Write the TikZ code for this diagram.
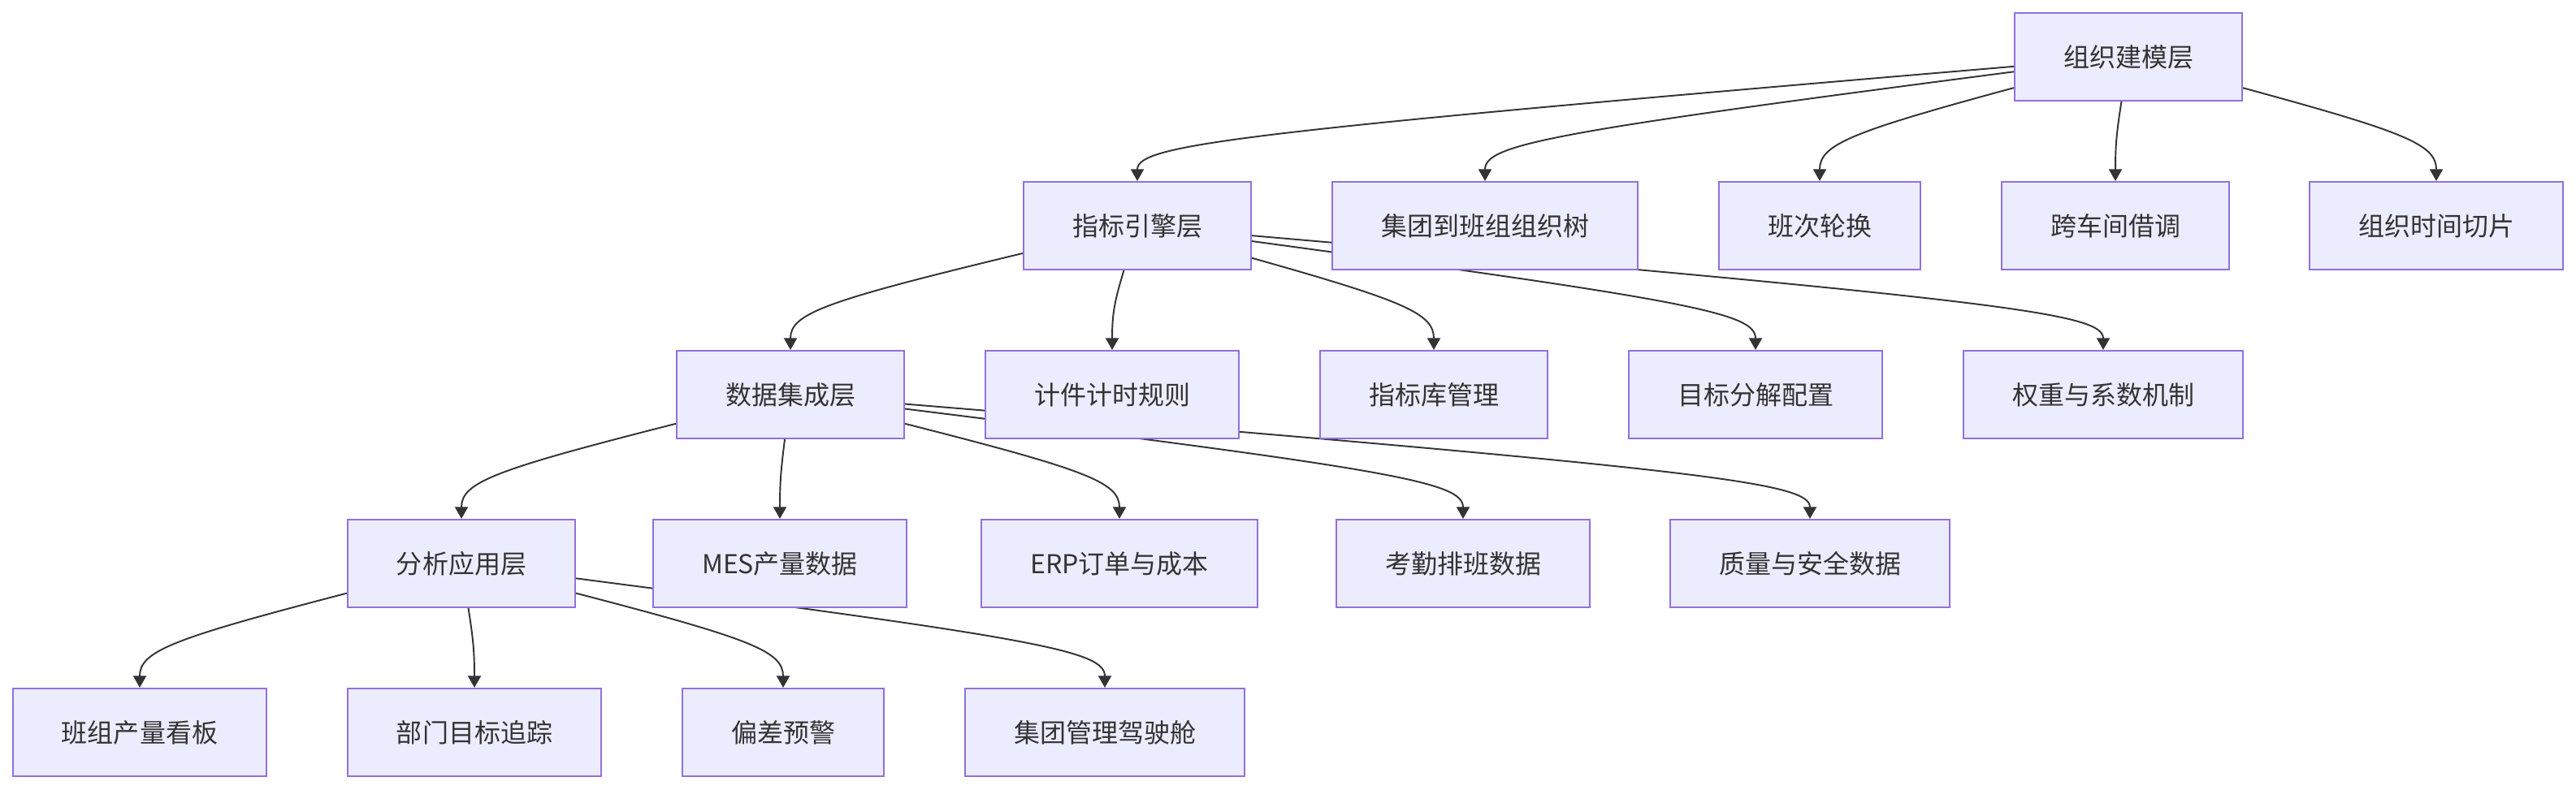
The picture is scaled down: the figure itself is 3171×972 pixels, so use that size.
\documentclass[tikz,border=0pt]{standalone}
\usepackage{fontspec}
\newfontfamily\cjk{Noto Sans CJK SC}
\usepackage{tikz}
\usetikzlibrary{arrows.meta,calc,backgrounds}

\definecolor{boxfill}{HTML}{ECECFF}
\definecolor{boxline}{HTML}{9370DB}
\definecolor{ink}{HTML}{333333}

\tikzset{
  layer/.style={draw=boxline, fill=boxfill, line width=0.6pt, text=ink,
    font=\cjk\fontsize{9.1}{11}\selectfont, inner xsep=0.6cm, inner ysep=0pt,
    minimum height=1.08cm},
  link/.style={draw=ink, line width=0.55pt, -{Triangle[length=1.45mm,width=1.6mm]}}
}
% curve from a parent box down into the top of a child box
\newcommand{\flow}[2]{%
  \coordinate (mid) at ($(#2.north)+(0,-50)$);
  \draw[link] (#1) .. controls ($(#1)!0.9!(mid)$) and ($(#2.north)+(0,-45)$) .. (#2.north);}

\begin{document}
\begin{tikzpicture}[x=0.01cm, y=-0.01cm]
\useasboundingbox (0,0) rectangle (3171,972);
% boxes, one row per level
\foreach \n/\x/\y/\t in {org/2620/70/组织建模层,
    engine/1400/278/指标引擎层, tree/1828/278/集团到班组组织树, shift/2240/278/班次轮换,
    borrow/2604/278/跨车间借调, slice/2999/278/组织时间切片,
    data/973/486/数据集成层, piece/1369/486/计件计时规则, lib/1765/486/指标库管理,
    target/2161/486/目标分解配置, weight/2589/486/权重与系数机制,
    app/568/694/分析应用层, mes/960/694/MES产量数据, erp/1378/694/ERP订单与成本,
    attend/1801/694/考勤排班数据, quality/2228/694/质量与安全数据,
    board/172/902/班组产量看板, track/584/902/部门目标追踪, alert/964/902/偏差预警,
    cockpit/1360/902/集团管理驾驶舱} {
  \node[layer] (\n) at (\x,\y) {\t};
}
\begin{scope}[on background layer]
\fill[white] (0,0) rectangle (3171,972);
\foreach \a/\b in {org/engine, org/tree, org/shift, org/borrow, org/slice,
    engine/data, engine/piece, engine/lib, engine/target, engine/weight,
    data/app, data/mes, data/erp, data/attend, data/quality,
    app/board, app/track, app/alert, app/cockpit} {
  \flow{\a}{\b}
}
\end{scope}
\end{tikzpicture}
\end{document}
